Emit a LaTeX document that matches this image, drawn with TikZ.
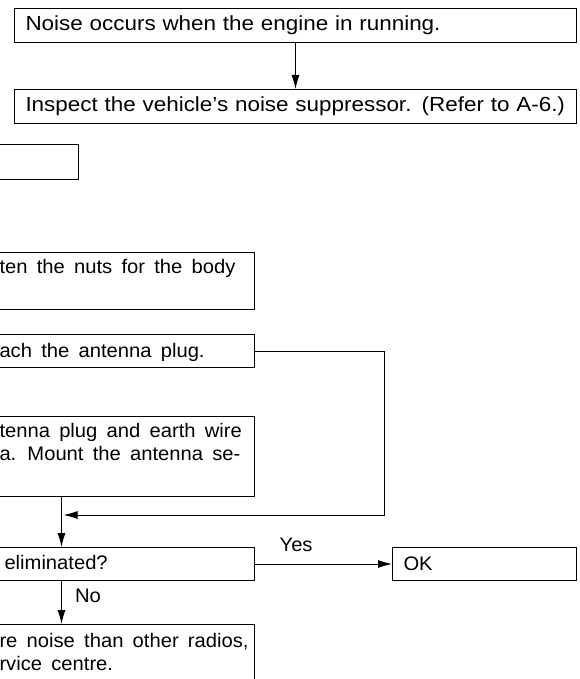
\documentclass[tikz,border=0pt]{standalone}
\usepackage{fontspec}
\setmainfont[FakeStretch=1.1,WordSpace=1.85]{Liberation Sans}
\newfontfamily\lowfont[FakeStretch=1.03,WordSpace=1.65]{Liberation Sans}
\usetikzlibrary{arrows.meta}
\begin{document}
\begin{tikzpicture}[x=0.5pt,y=-0.5pt,line width=0.5pt,
  every node/.style={font=\lowfont\fontsize{9.8}{11.5}\selectfont},
  box/.style={draw,rectangle,inner sep=0pt,anchor=north east},
  tbox/.style={draw,rectangle,inner ysep=0pt,inner xsep=5.5pt,align=left,anchor=north west},
  top/.style={font=\rmfamily\fontsize{10.2}{11.5}\selectfont},
  txt/.style={inner sep=0pt,align=left,anchor=base west},
  arr/.style={-{Latex[length=7pt,width=4pt]}}]
\useasboundingbox (0,0) rectangle (579,679);
\clip (0,0) rectangle (579,679);
\node[tbox,top,text width=270pt,minimum height=17pt] (n1) at (14,8) {Noise occurs when the engine in running.};
\node[tbox,top,text width=270pt,minimum height=17pt] (n2) at (14,89) {Inspect the vehicle's noise suppressor. (Refer to A-6.)};
\node[box,minimum width=100pt,minimum height=17.5pt] (n3) at (79,144) {};
\node[box,minimum width=193pt,minimum height=28.5pt] (n4) at (255,252) {};
\node[box,minimum width=193pt,minimum height=16.5pt] (n5) at (255,334) {};
\node[box,minimum width=193pt,minimum height=40pt] (n6) at (255,416) {};
\node[box,minimum width=193pt,minimum height=16.5pt] (n7) at (255,547) {};
\node[tbox,text width=81pt,minimum height=16.5pt] (ok) at (392,547) {OK};
\node[box,minimum width=193pt,minimum height=35pt] (n8) at (255,624) {};
\node[txt] (t4) at (-1,273) {ten the nuts for the body};
\node[txt] (t5) at (-1,357) {ach the antenna plug.};
\node[txt] (t6) at (-1,460) {tenna plug and earth wire\\a. Mount the antenna se-};
\node[txt] (t7) at (4,569) {eliminated?};
\node[txt] (t8) at (-1,670) {re noise than other radios,\\rvice centre.};
\coordinate (c1) at (384,515);
\draw[arr] (n1.south) -- (n2.north);
\draw[arr,shorten >=1pt] (n5.east) -| (c1) -- (c1 -| n6.south);
\draw[arr] (n6.south) -- (n7.north);
\draw[arr] (n7.east) -- node[pos=0.3,above=6pt,inner sep=0pt] (yes) {Yes} (ok.west);
\draw[arr] (n7.south) -- node[pos=0.35,right=6.5pt,inner sep=0pt] (no) {No} (n8.north);
\end{tikzpicture}
\end{document}
